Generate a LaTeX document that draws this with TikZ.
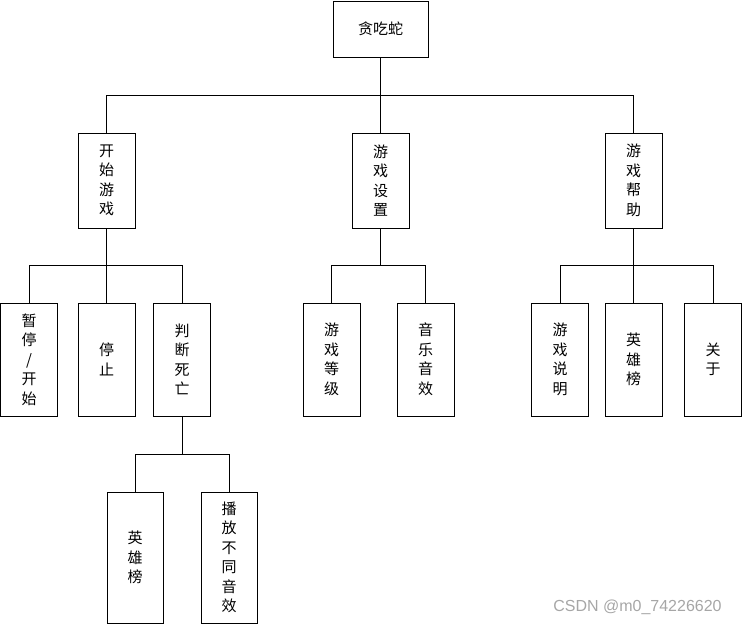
\documentclass[tikz,border=0pt]{standalone}
\usepackage{fontspec}
\setmainfont{Liberation Sans}
\newfontfamily\cjk{Noto Sans CJK SC}
\usetikzlibrary{positioning}

\tikzset{
    box/.style={draw, line width=0.8pt, minimum width=57pt, inner sep=0pt,
        font=\cjk\fontsize{15}{19.5}\selectfont, align=center},
    toplevel/.style={box, minimum height=95pt},
    midlevel/.style={box, minimum height=113pt},
    lowlevel/.style={box, minimum width=56pt, minimum height=131pt},
    link/.style={line width=0.8pt}
}

\begin{document}
\begin{tikzpicture}[x=1pt, y=-1pt]
                    \useasboundingbox (0,0) rectangle (742,625);
                    % root
                    \node[box, minimum width=95pt, minimum height=56pt] (snake) at (380.5,29) {贪吃蛇};
                    % first level
                    \node[toplevel] (start) at (106.5,180.5) {开\\始\\游\\戏};
                    \node[toplevel] (setup) at (380.5,180.5) {游\\戏\\设\\置};
                    \node[toplevel] (help) at (633.5,180.5) {游\\戏\\帮\\助};
                    % second level
                    \node[midlevel] (pause) at (29,359.5) {暂\\停\\/\\开\\始};
                    \node[midlevel] (stop) at (106.5,359.5) {停\\止};
                    \node[midlevel] (death) at (182,359.5) {判\\断\\死\\亡};
                    \node[midlevel] (level) at (331.5,359.5) {游\\戏\\等\\级};
                    \node[midlevel] (music) at (425.5,359.5) {音\\乐\\音\\效};
                    \node[midlevel] (guide) at (560,359.5) {游\\戏\\说\\明};
                    \node[midlevel] (rank) at (633.5,359.5) {英\\雄\\榜};
                    \node[midlevel] (about) at (713,359.5) {关\\于};
                    % third level
                    \node[lowlevel] (deadrank) at (135,557.5) {英\\雄\\榜};
                    \node[lowlevel] (sound) at (229,557.5) {播\\放\\不\\同\\音\\效};
                    % connectors
                    \foreach \c in {start, setup, help}
                        \draw[link] (snake.south) -- ++(0,38) -| (\c.north);
                    \foreach \c in {pause, stop, death}
                        \draw[link] (start.south) -- ++(0,37) -| (\c.north);
                    \foreach \c in {level, music}
                        \draw[link] (setup.south) -- ++(0,37) -| (\c.north);
                    \foreach \c in {guide, rank, about}
                        \draw[link] (help.south) -- ++(0,37) -| (\c.north);
                    \foreach \c in {deadrank, sound}
                        \draw[link] (death.south) -- ++(0,38) -| (\c.north);
                    % watermark
                    \node[text=gray!70, font=\fontsize{16}{16}\selectfont, inner sep=0pt] (mark) at (637.5,607) {CSDN @m0\_74226620};
                \end{tikzpicture}
\end{document}
